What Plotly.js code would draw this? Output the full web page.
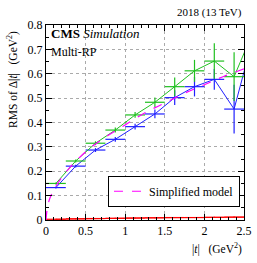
<!DOCTYPE html>
<html><head><meta charset="utf-8">
<script src="https://cdn.plot.ly/plotly-3.0.1.min.js"></script>
<style>html,body{margin:0;padding:0;background:#fff}#c{width:257px;height:263px}</style>
</head><body><div id="c"></div>
<script>
const binCenters = [0.125,0.375,0.625,0.875,1.125,1.375,1.625,1.875,2.125,2.375,2.625];
const binHalf = [0.125,0.125,0.125,0.125,0.125,0.125,0.125,0.125,0.125,0.125,0.125];
const greenVals = [0.150,0.242,0.315,0.369,0.431,0.483,0.547,0.612,0.652,0.588,0.78];
const greenErr  = [0.004,0.006,0.008,0.010,0.012,0.020,0.038,0.045,0.073,0.10,0.10];
const blueVals  = [0.133,0.221,0.287,0.331,0.383,0.435,0.502,0.547,0.577,0.455,0.76];
const blueErr   = [0.004,0.006,0.008,0.010,0.012,0.018,0.030,0.040,0.043,0.10,0.10];
const redVals   = [0.003,0.005,0.006,0.007,0.008,0.009,0.010,0.010,0.011,0.012,0.012];
const modelT    = [0,0.02,0.05,0.1,0.2,0.3,0.5,0.75,1.0,1.25,1.5,1.75,2.0,2.25,2.5];
const modelRms  = [0,0.055,0.09,0.125,0.175,0.215,0.28,0.34,0.39,0.44,0.48,0.52,0.555,0.59,0.62];
const xTicks = [0,0.5,1,1.5,2,2.5];
const xTickText = ["0","0.5","1","1.5","2","2.5"];
const yTicks = [0,0.1,0.2,0.3,0.4,0.5,0.6,0.7,0.8];
const yTickText = ["0","0.1","0.2","0.3","0.4","0.5","0.6","0.7","0.8"];

const serif = "Liberation Serif, DejaVu Serif, serif";
function series(y, err, color){
  return {x: binCenters, y: y, type:'scatter', mode:'lines', showlegend:false,
    line:{color:color, width:1},
    error_x:{type:'data', array:binHalf, color:color, thickness:1.2, width:0},
    error_y:{type:'data', array:err, color:color, thickness:1.2, width:0}};
}
const traces = [
  series(redVals, redVals.map(()=>0.002), '#ff0000'),
  series(blueVals, blueErr, '#2020ff'),
  series(greenVals, greenErr, '#20c020'),
  {x: modelT, y: modelRms, type:'scatter', mode:'lines', name:'Simplified model',
   line:{color:'#ff00ff', width:1.2, dash:'dash', shape:'spline'}}
];
const axisCommon = {showline:true, linecolor:'#000', linewidth:1, mirror:'allticks',
  ticks:'inside', ticklen:6, tickcolor:'#000', zeroline:false,
  showgrid:true, gridcolor:'#aaa', griddash:'dot', gridwidth:1,
  tickfont:{family:serif, size:12, color:'#000'}};
const layout = {
  width:257, height:263, margin:{l:46, r:13, t:25, b:43},
  paper_bgcolor:'#fff', plot_bgcolor:'#fff',
  xaxis: Object.assign({}, axisCommon, {range:[0,2.5], tickvals:xTicks, ticktext:xTickText,
    minor:{ticks:'inside', dtick:0.1, ticklen:3, tickcolor:'#000', showgrid:false}}),
  yaxis: Object.assign({}, axisCommon, {range:[0,0.8], tickvals:yTicks, ticktext:yTickText,
    minor:{ticks:'inside', dtick:0.05, ticklen:3, tickcolor:'#000', showgrid:false}}),
  showlegend:true,
  legend:{x:0.313, y:0.227, xanchor:'left', yanchor:'top', bgcolor:'#fff',
    bordercolor:'#000', borderwidth:1, font:{family:serif, size:12, color:'#000'},
    tracegroupgap:0, itemwidth:30},
  annotations:[
    {text:'2018 (13 TeV)', xref:'paper', yref:'paper', x:1, y:1.065, xanchor:'right', yanchor:'middle',
     showarrow:false, font:{family:serif, size:11, color:'#000'}},
    {text:'<b>CMS</b> <i>Simulation</i>', xref:'paper', yref:'paper', x:0.015, y:0.955, xanchor:'left', yanchor:'middle',
     showarrow:false, font:{family:serif, size:13, color:'#000'}},
    {text:'Multi-RP', xref:'paper', yref:'paper', x:0.015, y:0.862, xanchor:'left', yanchor:'middle',
     showarrow:false, font:{family:serif, size:12, color:'#000'}},
    {text:'RMS of Δ|<i>t</i>|   (GeV<sup>2</sup>)', xref:'paper', yref:'paper', x:-0.17, y:0.72,
     xanchor:'center', yanchor:'middle', textangle:-90, showarrow:false,
     font:{family:serif, size:11.5, color:'#000'}},
    {text:'|<i>t</i>|   (GeV<sup>2</sup>)', xref:'paper', yref:'paper', x:1, y:-0.145,
     xanchor:'right', yanchor:'middle', showarrow:false, font:{family:serif, size:11.5, color:'#000'}}
  ]
};
Plotly.newPlot('c', traces, layout, {staticPlot:true, displayModeBar:false});
</script></body></html>
